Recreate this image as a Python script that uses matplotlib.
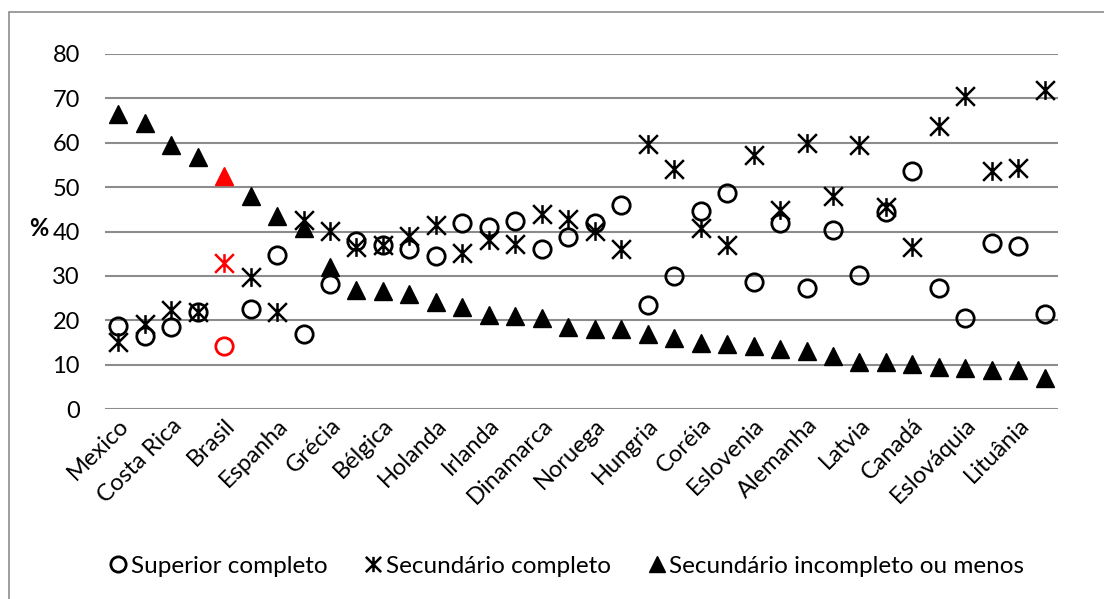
import numpy as np
import matplotlib.pyplot as plt
from matplotlib.path import Path
from matplotlib.patches import Rectangle
from matplotlib.lines import Line2D

plt.rcParams['font.family'] = ['Lato', 'DejaVu Sans']

# paises (so os pares aparecem no eixo)
paises = ['Mexico', '', 'Costa Rica', '', 'Brasil', '', 'Espanha', '', 'Grécia', '',
          'Bélgica', '', 'Holanda', '', 'Irlanda', '', 'Dinamarca', '', 'Noruega', '',
          'Hungria', '', 'Coréia', '', 'Eslovenia', '', 'Alemanha', '', 'Latvia', '',
          'Canadá', '', 'Eslováquia', '', 'Lituânia', '']

superior = [18.8, 16.4, 18.4, 21.8, 14.2, 22.5, 34.8, 17.0, 28.1, 37.8,
            37.0, 36.0, 34.5, 42.0, 41.0, 42.3, 36.0, 38.8, 42.0, 46.0,
            23.4, 30.0, 44.7, 48.6, 28.7, 42.0, 27.2, 40.3, 30.3, 44.3,
            53.7, 27.2, 20.4, 37.5, 36.8, 21.5]

secundario = [15.2, 19.1, 22.4, 21.8, 33.0, 29.7, 21.9, 42.6, 40.2, 36.5,
              37.0, 39.0, 41.4, 35.2, 38.0, 37.2, 43.9, 42.8, 40.2, 36.0,
              59.8, 54.0, 40.7, 36.9, 57.2, 44.8, 60.0, 48.0, 59.6, 45.6,
              36.6, 63.7, 70.5, 53.7, 54.4, 71.8]

incompleto = [66.4, 64.4, 59.6, 56.8, 52.5, 48.1, 43.5, 40.7, 31.9, 26.8,
              26.6, 26.0, 24.2, 22.9, 21.2, 21.0, 20.4, 18.5, 18.1, 18.1,
              16.9, 16.1, 14.9, 14.6, 14.2, 13.5, 13.1, 12.0, 10.5, 10.5,
              10.1, 9.5, 9.3, 8.9, 8.9, 6.9]

destaque = 'Brasil'

# marcador estrela: X com traco vertical
estrela = Path([(-1, -1), (1, 1), (-1, 1), (1, -1), (0, -1), (0, 1)],
               [Path.MOVETO, Path.LINETO, Path.MOVETO, Path.LINETO, Path.MOVETO, Path.LINETO])

x = np.arange(len(paises))
cores = ['red' if p == destaque else 'black' for p in paises]

fig = plt.figure(figsize=(11.04, 5.99), dpi=100)
ax = fig.add_axes([105 / 1104, 1 - 409 / 599, 953 / 1104, 355 / 599])

for xi, yi, c in zip(x, incompleto, cores):
    ax.plot(xi, yi, marker='^', ms=13.5, color=c, mec=c, mew=1, ls='none', zorder=3)
for xi, yi, c in zip(x, secundario, cores):
    ax.plot(xi, yi, marker=estrela, ms=13.5, color=c, mec=c, mew=1.8, ls='none', zorder=4)
for xi, yi, c in zip(x, superior, cores):
    ax.plot(xi, yi, marker='o', ms=12.5, mfc='none', mec=c, mew=2.0, ls='none', zorder=5)

ax.set_xlim(-0.5, len(paises) - 0.5)
ax.set_ylim(0, 80)
ax.set_yticks(range(0, 81, 10))
ax.yaxis.grid(True, color='#8c8c8c', lw=1.5)
ax.set_axisbelow(True)
for s in ax.spines.values():
    s.set_visible(False)
ax.tick_params(axis='both', length=0, labelsize=17)
ax.tick_params(axis='y', pad=18)

pos = [i for i, p in enumerate(paises) if p]
ax.set_xticks(pos)
ax.set_xticklabels([paises[i] for i in pos], rotation=45, ha='right',
                   rotation_mode='anchor', fontsize=17)
ax.tick_params(axis='x', pad=4)

fig.text(39 / 1104, 1 - 229 / 599, '%', fontsize=17, fontweight='bold',
         ha='center', va='center')

handles = [
    Line2D([], [], marker='o', ls='none', mfc='none', mec='black', mew=2.0, ms=11),
    Line2D([], [], marker=estrela, ls='none', color='black', mew=1.8, ms=11),
    Line2D([], [], marker='^', ls='none', color='black', ms=12),
]
fig.legend(handles, ['Superior completo', 'Secundário completo',
                     'Secundário incompleto ou menos'],
           loc='center', bbox_to_anchor=(0.513, 1 - 566 / 599), ncol=3,
           frameon=False, fontsize=17.5, handlelength=0.8, handletextpad=0.1,
           columnspacing=1.5)

fig.patches.append(Rectangle((8.5 / 1104, -0.05), 1.2, 1 - 11.5 / 599 + 0.05,
                             transform=fig.transFigure, fill=False,
                             ec='#8c8c8c', lw=1.2))

fig.savefig('out.png', dpi=100)
